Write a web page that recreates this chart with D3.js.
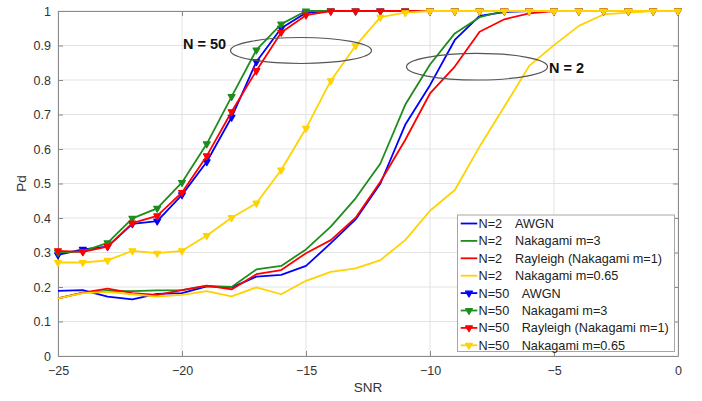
<!DOCTYPE html>
<html><head><meta charset="utf-8">
<script src="https://cdn.jsdelivr.net/npm/d3@7"></script>
<style>body{margin:0;background:#fff}svg{display:block}text{font-family:"Liberation Sans",Arial,sans-serif}</style>
</head><body>
<svg id="chart" width="702" height="401"></svg>
<script>
const snr = [-25,-24,-23,-22,-21,-20,-19,-18,-17,-16,-15,-14,-13,-12,-11,-10,-9,-8,-7,-6,-5,-4,-3,-2,-1,0];
const n2Awgn    = [0.189,0.191,0.172,0.164,0.180,0.182,0.202,0.198,0.230,0.235,0.261,0.327,0.396,0.500,0.670,0.785,0.916,0.986,0.997,1,1,1,1,1,1,1];
const n2Naka3   = [0.167,0.183,0.189,0.188,0.190,0.191,0.203,0.200,0.251,0.261,0.309,0.375,0.457,0.558,0.728,0.845,0.935,0.982,1,1,1,1,1,1,1,1];
const n2Rayl    = [0.167,0.184,0.195,0.182,0.177,0.191,0.204,0.193,0.237,0.249,0.298,0.336,0.401,0.505,0.626,0.761,0.839,0.940,0.976,0.993,1,1,1,1,1,1];
const n2Naka065 = [0.167,0.182,0.186,0.179,0.172,0.177,0.188,0.173,0.199,0.179,0.218,0.244,0.254,0.278,0.336,0.421,0.481,0.607,0.723,0.841,0.901,0.957,0.990,0.995,1,1];
const n50Awgn    = [0.293,0.309,0.317,0.383,0.391,0.467,0.563,0.692,0.853,0.950,0.995,1,1,1,1,1,1,1,1,1,1,1,1,1,1,1];
const n50Naka3   = [0.300,0.303,0.328,0.399,0.428,0.503,0.615,0.752,0.887,0.962,1,1,1,1,1,1,1,1,1,1,1,1,1,1,1,1];
const n50Rayl    = [0.305,0.302,0.317,0.385,0.406,0.474,0.580,0.708,0.827,0.938,0.988,1,1,1,1,1,1,1,1,1,1,1,1,1,1,1];
const n50Naka065 = [0.271,0.271,0.277,0.305,0.298,0.305,0.349,0.401,0.443,0.539,0.660,0.798,0.899,0.982,0.995,1,1,1,1,1,1,1,1,1,1,1];
const xTicks = [-25,-20,-15,-10,-5,0];
const yTicks = [0,0.1,0.2,0.3,0.4,0.5,0.6,0.7,0.8,0.9,1];
const seriesNames = ["N=2", "N=2", "N=2", "N=2", "N=50", "N=50", "N=50", "N=50"];
const seriesDesc = ["AWGN","Nakagami m=3","Rayleigh (Nakagami m=1)","Nakagami m=0.65","AWGN","Nakagami m=3","Rayleigh (Nakagami m=1)","Nakagami m=0.65"];

const colors = ["#0000ff","#1e8c1e","#ff0000","#ffd200","#0000ff","#1e8c1e","#ff0000","#ffd200"];
const series = [n2Awgn,n2Naka3,n2Rayl,n2Naka065,n50Awgn,n50Naka3,n50Rayl,n50Naka065].map((v,i)=>({
  values:v, color:colors[i], marker:i>=4, name:seriesNames[i], desc:seriesDesc[i]}));

const svg = d3.select("#chart");
const m = {l:58, r:24, t:11, b:45};
const W = 702, H = 401;
const x = d3.scaleLinear().domain([-25,0]).range([m.l, W-m.r]);
const y = d3.scaleLinear().domain([0,1]).range([H-m.b, m.t]);
const axisCol = "#8a8a8a";

// grid
const g = svg.append("g");
g.selectAll(".vg").data(xTicks).join("line")
  .attr("x1",d=>x(d)).attr("x2",d=>x(d)).attr("y1",y(0)).attr("y2",y(1))
  .attr("stroke","#e3e3e3").attr("stroke-width",1);
g.selectAll(".hg").data(yTicks).join("line")
  .attr("y1",d=>y(d)).attr("y2",d=>y(d)).attr("x1",x(-25)).attr("x2",x(0))
  .attr("stroke","#e3e3e3").attr("stroke-width",1);

// axes
const xAxis = svg.append("g").attr("transform",`translate(0,${y(0)})`)
  .call(d3.axisBottom(x).tickValues(xTicks).tickFormat(d3.format("d")).tickSizeInner(-5).tickSizeOuter(0).tickPadding(10));
const yAxis = svg.append("g").attr("transform",`translate(${x(-25)},0)`)
  .call(d3.axisLeft(y).tickValues(yTicks).tickFormat(d=>d===0||d===1?d3.format("d")(d):d3.format(".1f")(d)).tickSizeInner(-5).tickSizeOuter(0).tickPadding(7));
const yAxisR = svg.append("g").attr("transform",`translate(${x(0)},0)`)
  .call(d3.axisRight(y).tickValues(yTicks).tickFormat("").tickSizeInner(-5).tickSizeOuter(0));
const xAxisT = svg.append("g").attr("transform",`translate(0,${y(1)})`)
  .call(d3.axisTop(x).tickValues(xTicks).tickFormat("").tickSizeInner(-5).tickSizeOuter(0));
[xAxis,yAxis,yAxisR,xAxisT].forEach(a=>{
  a.selectAll("path").attr("stroke",axisCol);
  a.selectAll("line").attr("stroke",axisCol);
  a.selectAll("text").attr("fill","#333").style("font-size","12.5px").style("font-family","Liberation Sans, Arial, sans-serif");
});

svg.append("text").attr("x",x(-12.5)).attr("y",392).attr("text-anchor","middle")
  .attr("fill","#333").style("font-size","13.5px").text("SNR");
svg.append("text").attr("transform",`translate(26,${y(0.5)}) rotate(-90)`).attr("text-anchor","middle")
  .attr("fill","#333").style("font-size","13.5px").text("Pd");

// lines
const line = d3.line().x((d,i)=>x(snr[i])).y(d=>y(d));
const tri = d3.symbol().type(d3.symbolTriangle).size(20);
series.forEach(s=>{
  svg.append("path").datum(s.values).attr("d",line).attr("fill","none")
    .attr("stroke",s.color).attr("stroke-width",1.8).attr("stroke-linejoin","round");
  if(s.marker){
    svg.append("g").selectAll("path").data(s.values).join("path")
      .attr("d",tri).attr("fill",s.color).attr("stroke",s.color).attr("stroke-width",1.2).attr("stroke-linejoin","round")
      .attr("transform",(d,i)=>`translate(${x(snr[i])},${y(d)}) rotate(180)`);
  }
});

// annotations
svg.append("ellipse").attr("cx",301).attr("cy",50.5).attr("rx",70.5).attr("ry",13)
  .attr("fill","none").attr("stroke","#555").attr("stroke-width",1.2);
svg.append("ellipse").attr("cx",477).attr("cy",66.7).attr("rx",70.5).attr("ry",13.3)
  .attr("fill","none").attr("stroke","#555").attr("stroke-width",1.2);
svg.append("text").attr("x",183).attr("y",49).style("font-size","14.5px").style("font-weight","bold")
  .attr("fill","#111").text("N = 50");
svg.append("text").attr("x",549).attr("y",73).style("font-size","14.5px").style("font-weight","bold")
  .attr("fill","#111").text("N = 2");

// legend
const lg = svg.append("g");
lg.append("rect").attr("x",457.5).attr("y",215).attr("width",217).attr("height",136.5)
  .attr("fill","#fff").attr("stroke","#a6a6a6").attr("stroke-width",1);
series.forEach((s,i)=>{
  const cy = 223.5 + i*17.4;
  lg.append("line").attr("x1",460.7).attr("x2",477.3).attr("y1",cy).attr("y2",cy)
    .attr("stroke",s.color).attr("stroke-width",1.8);
  if(s.marker) lg.append("path").attr("d",tri).attr("fill",s.color).attr("stroke",s.color).attr("stroke-width",1.2).attr("stroke-linejoin","round")
    .attr("transform",`translate(469,${cy}) rotate(180)`);
  lg.append("text").attr("x",478.5).attr("y",cy+4.5).style("font-size","12.7px").attr("fill","#222").text(s.name);
  lg.append("text").attr("x",s.marker?521.7:515).attr("y",cy+4.5).style("font-size","12.7px").attr("fill","#222").text(s.desc);
});
</script>
</body></html>
